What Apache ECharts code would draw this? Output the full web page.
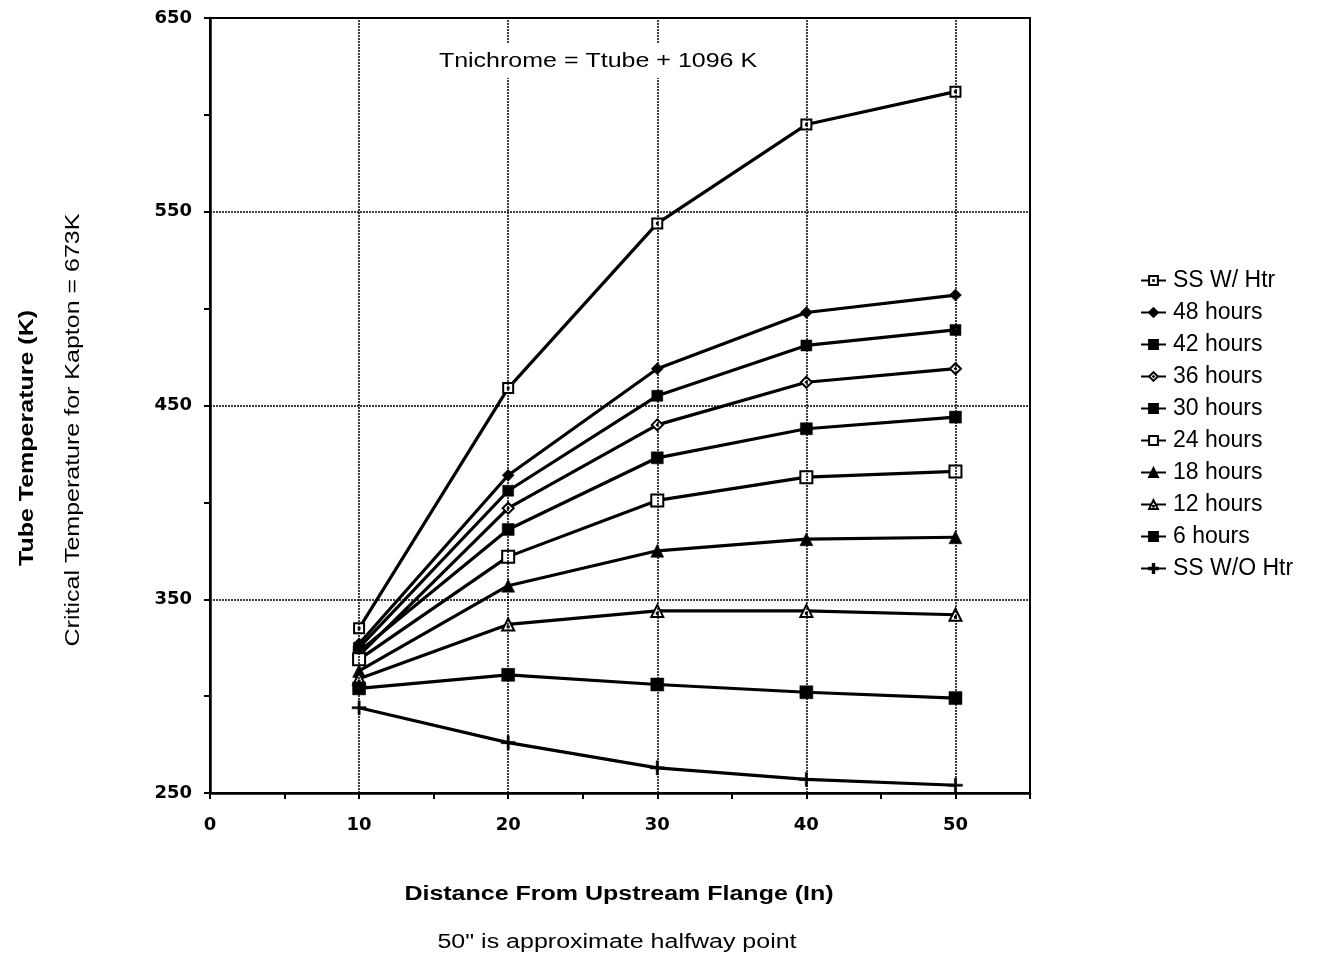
<!DOCTYPE html>
<html>
<head>
<meta charset="utf-8">
<title>Tube Temperature vs Distance</title>
<script src="https://cdn.jsdelivr.net/npm/echarts@6/dist/echarts.min.js"></script>
<style>
  html, body { margin: 0; padding: 0; background: #fff; }
  #chart { width: 1327px; height: 960px; }
</style>
</head>
<body>
<div id="chart"></div>
<script>
// x positions (in)
const distances = [10, 20, 30, 40, 50]

// tube temperature (K) per series, read at each distance
const ssWithHtr = [335, 459, 544, 595, 612]
const hours48 = [327, 414, 469, 498, 507]
const hours42 = [325, 406, 455, 481, 489]
const hours36 = [321, 397, 440, 462, 469]
const hours30 = [323, 386, 423, 438, 444]
const hours24 = [319, 372, 401, 413, 416]
const hours18 = [313, 357, 375, 381, 382]
const hours12 = [309, 337, 344, 344, 342]
const hours6 = [304, 311, 306, 302, 299]
const ssWithoutHtr = [294, 276, 263, 257, 254]

// grid lines (every 10 in / 100 K)
const xGridLines = [10, 20, 30, 40, 50]
const yGridLines = [350, 450, 550]

const font = '"Liberation Sans", Arial, sans-serif'
// the scanned lettering is wide, so texts get stretched a little
const stretch = 1.25

// marker shapes
const SYM_SQ_DOT = 'path://M0,0H10V10H0Z M4.6,4.6H5.4V5.4H4.6Z'
const SYM_SQ_HOLE = 'path://M0,0H10V10H0Z M4,4V6H6V4Z'
const SYM_DIAMOND_DOT = 'path://M5,0L10,5L5,10L0,5Z M4.6,5L5,4.6L5.4,5L5,5.4Z'
const SYM_TRI_DOT = 'path://M5,0L10,10H0Z M4.6,6.6H5.4V7.4H4.6Z'
const SYM_PLUS = 'path://M4.2,0H5.8V4.2H10V5.8H5.8V10H4.2V5.8H0V4.2H4.2Z'

const seriesDefs = [
  { name: 'SS W/ Htr', values: ssWithHtr, symbol: SYM_SQ_DOT, fill: '#fff', size: 10 },
  { name: '48 hours', values: hours48, symbol: 'diamond', fill: '#000', size: 12 },
  { name: '42 hours', values: hours42, symbol: SYM_SQ_HOLE, fill: '#000', size: 11 },
  { name: '36 hours', values: hours36, symbol: SYM_DIAMOND_DOT, fill: '#fff', size: 11 },
  { name: '30 hours', values: hours30, symbol: 'rect', fill: '#000', size: 12 },
  { name: '24 hours', values: hours24, symbol: 'rect', fill: '#fff', size: 12 },
  { name: '18 hours', values: hours18, symbol: 'triangle', fill: '#000', size: 13 },
  { name: '12 hours', values: hours12, symbol: SYM_TRI_DOT, fill: '#fff', size: 12 },
  { name: '6 hours', values: hours6, symbol: 'rect', fill: '#000', size: 13 },
  { name: 'SS W/O Htr', values: ssWithoutHtr, symbol: SYM_PLUS, fill: '#000', size: 14 },
]

const buildSeries = () => {
  const list = seriesDefs.map((d) => ({
    name: d.name,
    type: 'line',
    symbol: d.symbol,
    symbolSize: d.size,
    showAllSymbol: true,
    lineStyle: { color: '#000', width: 3.2 },
    itemStyle: {
      color: d.fill,
      borderColor: '#000',
      borderWidth: d.fill === '#fff' ? 2 : 0.5,
    },
    emphasis: { disabled: true },
    z: 3,
    data: distances.map((x, i) => [x, d.values[i]]),
  }))
  // dotted grid lines as mark lines on the first series
  list[0].markLine = {
    silent: true,
    symbol: 'none',
    label: { show: false },
    lineStyle: { type: [2, 1], color: '#000', width: 1.5 },
    data: [
      ...yGridLines.map((v) => ({ yAxis: v })),
      ...xGridLines.map((v) => ({ xAxis: v })),
    ],
  }
  return list
}

// helper for the free texts
const textEl = (text, x, y, weight, rotated) => ({
  type: 'text',
  x,
  y,
  z: 20,
  rotation: rotated ? Math.PI / 2 : 0,
  scaleX: stretch,
  style: {
    text,
    font: weight + ' 20px ' + font,
    fill: '#000',
    align: 'center',
    verticalAlign: 'middle',
  },
})

const myChart = echarts.init(document.getElementById('chart'))

const option = {
  animation: false,
  backgroundColor: '#fff',
  grid: {
    left: 210,
    top: 18,
    right: 297,
    bottom: 167,
    show: true,
    borderColor: '#000',
    borderWidth: 2,
  },
  legend: {
    orient: 'vertical',
    left: 1135,
    top: 264,
    itemWidth: 25,
    itemHeight: 11,
    itemGap: 9,
    selectedMode: false,
    textStyle: { fontFamily: font, fontSize: 23, color: '#000', padding: [0, 0, 0, 2] },
    data: seriesDefs.map((d) => d.name),
  },
  xAxis: {
    type: 'value',
    min: 0,
    max: 55,
    interval: 5,
    axisLine: { lineStyle: { color: '#000', width: 2.5 } },
    axisTick: { show: true, inside: false, length: 6, lineStyle: { color: '#000', width: 2 } },
    splitLine: { show: false },
    axisLabel: {
      margin: 23,
      fontFamily: '"DejaVu Sans", sans-serif',
      fontWeight: 'bold',
      fontSize: 18,
      color: '#000',
      formatter: (v) => (v % 10 === 0 && v <= 50 ? String(v) : ''),
    },
  },
  yAxis: {
    type: 'value',
    min: 250,
    max: 650,
    interval: 50,
    axisLine: { lineStyle: { color: '#000', width: 2.5 } },
    axisTick: { show: true, inside: false, length: 6, lineStyle: { color: '#000', width: 2 } },
    splitLine: { show: false },
    axisLabel: {
      margin: 18,
      fontFamily: '"DejaVu Sans", sans-serif',
      fontWeight: 'bold',
      fontSize: 18,
      color: '#000',
      formatter: (v) => ((v - 250) % 100 === 0 ? String(v) : ''),
    },
  },
  graphic: [
    // white box behind the annotation, breaks the grid lines like the original
    {
      type: 'rect',
      z: 15,
      shape: { x: 432, y: 43, width: 332, height: 35 },
      style: { fill: '#fff' },
    },
    textEl('Tnichrome = Ttube + 1096 K', 598, 61, 'normal', false),
    textEl('Tube Temperature (K)', 27, 438, 'bold', true),
    textEl('Critical Temperature for Kapton = 673K', 73, 430, 'normal', true),
    textEl('Distance From Upstream Flange (In)', 619, 894, 'bold', false),
    textEl('50" is approximate halfway point', 617, 942, 'normal', false),
  ],
  series: buildSeries(),
}

myChart.setOption(option)
</script>
</body>
</html>
